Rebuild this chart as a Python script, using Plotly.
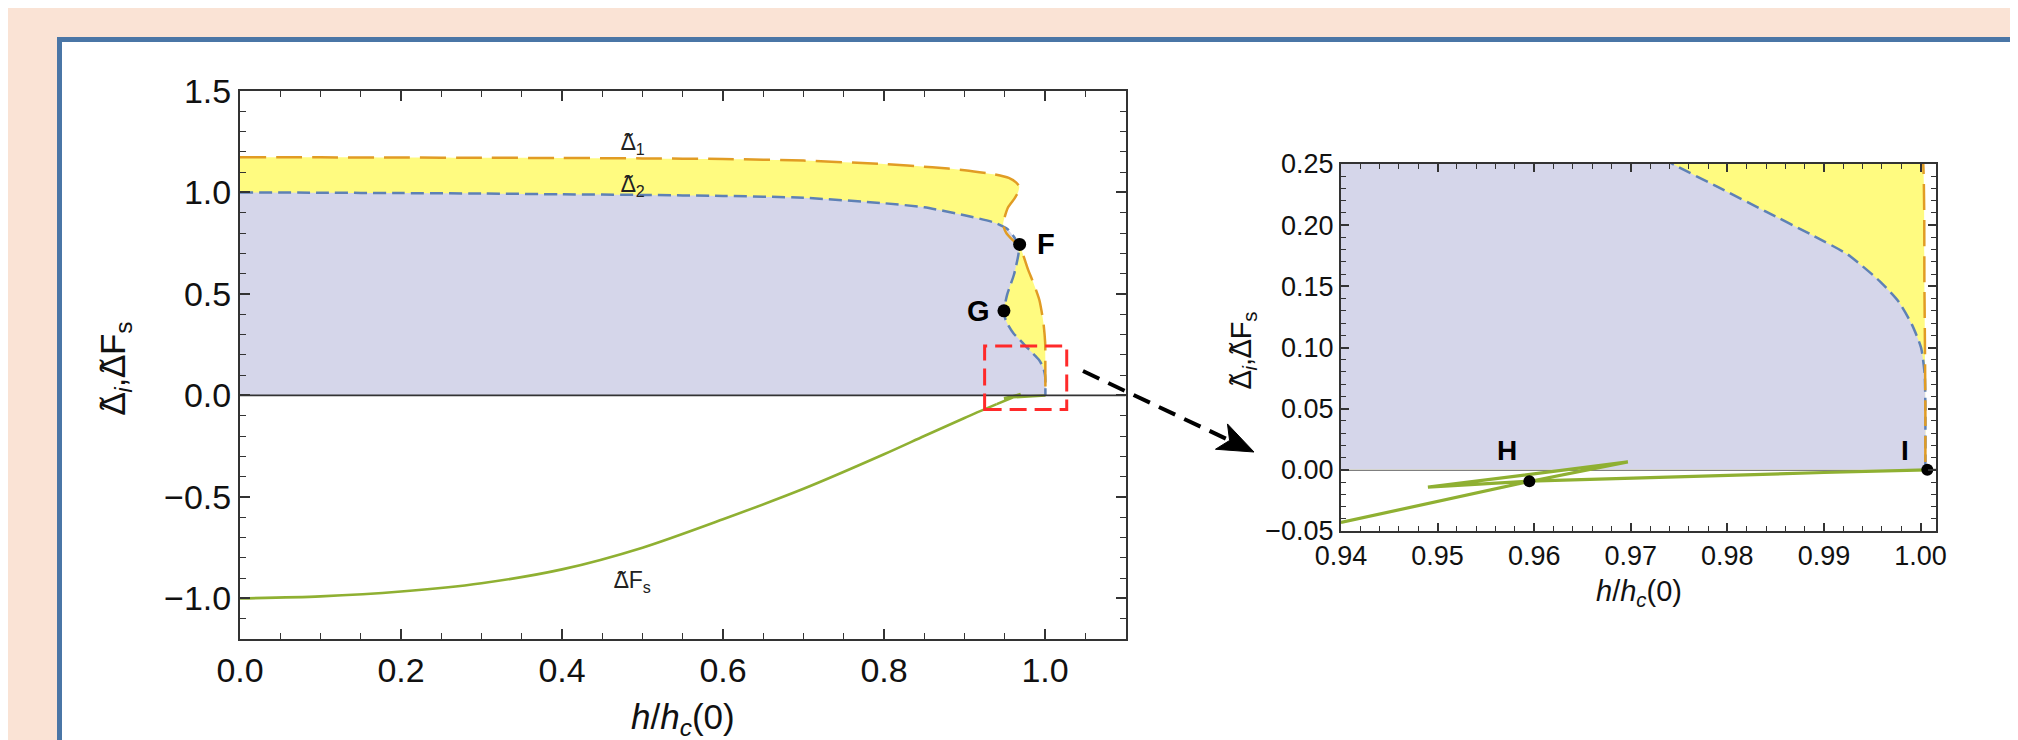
import numpy as np
import plotly.graph_objects as go

# ---------------- data ----------------
# Delta~_2 (blue dashed), parametric curve h/hc(0) -> value
blue_x = [0.0, 0.1, 0.2, 0.3, 0.4, 0.5, 0.6, 0.7, 0.8, 0.85, 0.9, 0.9375, 0.954, 0.962,
          0.9675, 0.967, 0.9615, 0.953, 0.949, 0.9505, 0.954, 0.961, 0.9685, 0.97448,
          0.9792, 0.98395, 0.98869, 0.99248, 0.99579, 0.9977, 0.99911, 1.00006, 1.00043,
          1.0005, 1.0005]
blue_y = [1.0, 0.999, 0.997, 0.995, 0.991, 0.988, 0.983, 0.974, 0.947, 0.927, 0.888, 0.851,
          0.818, 0.778, 0.735, 0.695, 0.596, 0.497, 0.417, 0.38, 0.348, 0.305, 0.275, 0.2494,
          0.2304, 0.2113, 0.1922, 0.1759, 0.1541, 0.1378, 0.1187, 0.0997, 0.0779, 0.05, 0.0]

# Delta~_1 (orange dashed)
orange_x = [0.0, 0.1, 0.2, 0.3, 0.4, 0.5, 0.6, 0.7, 0.8, 0.86, 0.9, 0.936, 0.955, 0.964,
            0.968, 0.9665, 0.962, 0.954, 0.948, 0.952, 0.96, 0.9685, 0.979, 0.986, 0.993,
            0.998, 1.0002, 1.0004, 1.0005, 1.0005]
orange_y = [1.173, 1.173, 1.172, 1.171, 1.17, 1.168, 1.165, 1.157, 1.14, 1.124, 1.11, 1.09,
            1.072, 1.05, 1.03, 1.0, 0.97, 0.926, 0.843, 0.8, 0.765, 0.735, 0.62, 0.55, 0.47,
            0.36, 0.26, 0.15, 0.05, 0.0]

# Delta F~_s (green): smooth branch, then the swallowtail near h/hc(0) ~ 0.95-1.0
green_x = [0.0, 0.1, 0.2, 0.3, 0.4, 0.5, 0.6, 0.7, 0.8, 0.85, 0.9, 0.94]
green_y = [-1.0, -0.99, -0.966, -0.925, -0.857, -0.75, -0.61, -0.46, -0.29, -0.2, -0.111,
           -0.043]
tail_x = [0.94, 0.95, 0.9595, 0.9697, 0.96, 0.949, 0.9595, 0.97, 0.98, 0.99, 1.0007]
tail_y = [-0.043, -0.026, -0.0095, 0.0065, -0.0035, -0.0142, -0.0092, -0.0066, -0.0044,
          -0.0022, 0.0]

# marked points
main_pt_x = [0.9685, 0.949]
main_pt_y = [0.744, 0.417]
main_pt_lab = ["F", "G"]
inset_pt_x = [0.9595, 1.0007]
inset_pt_y = [-0.0093, 0.0]
inset_pt_lab = ["H", "I"]

# axis ranges
main_x_range = [0.0, 1.1]
main_y_range = [-1.2, 1.5]
inset_x_range = [0.94, 1.0016]
inset_y_range = [-0.05, 0.25]

# ---------------- styling ----------------
W, H = 2018, 740
BLUE = "#5E81B5"
ORANGE = "#E19C24"
GREEN = "#8FB032"
LAVENDER = "#D5D6EA"
YELLOW = "#FFFB80"
AX = "#333333"
FONT = "Liberation Sans"


def px(x):
    return x / W


def py(y):
    return 1 - y / H


fig = go.Figure()
SM = 0.6
for xa, ya, gw in (("x", "y", 2.6), ("x2", "y2", 3.2)):
    fig.add_trace(go.Scatter(x=orange_x, y=orange_y, xaxis=xa, yaxis=ya, mode="lines",
                             fill="tozeroy", fillcolor=YELLOW,
                             line=dict(width=0, shape="spline", smoothing=SM),
                             hoverinfo="skip", showlegend=False))
    fig.add_trace(go.Scatter(x=blue_x, y=blue_y, xaxis=xa, yaxis=ya, mode="lines",
                             fill="tozeroy", fillcolor=LAVENDER,
                             line=dict(width=0, shape="spline", smoothing=SM),
                             hoverinfo="skip", showlegend=False))
    fig.add_trace(go.Scatter(x=green_x, y=green_y, xaxis=xa, yaxis=ya, mode="lines",
                             line=dict(color=GREEN, width=gw, shape="spline", smoothing=0.8),
                             showlegend=False))
    fig.add_trace(go.Scatter(x=tail_x, y=tail_y, xaxis=xa, yaxis=ya, mode="lines",
                             line=dict(color=GREEN, width=gw), showlegend=False))
    fig.add_trace(go.Scatter(x=blue_x, y=blue_y, xaxis=xa, yaxis=ya, mode="lines",
                             line=dict(color=BLUE, width=2.5, dash="13px,6px",
                                       shape="spline", smoothing=SM),
                             showlegend=False))
    fig.add_trace(go.Scatter(x=orange_x, y=orange_y, xaxis=xa, yaxis=ya, mode="lines",
                             line=dict(color=ORANGE, width=2.5, dash="26px,10px",
                                       shape="spline", smoothing=SM),
                             showlegend=False))

fig.add_trace(go.Scatter(x=main_pt_x, y=main_pt_y, xaxis="x", yaxis="y", mode="markers",
                         marker=dict(color="black", size=13), showlegend=False))
fig.add_trace(go.Scatter(x=inset_pt_x, y=inset_pt_y, xaxis="x2", yaxis="y2", mode="markers",
                         marker=dict(color="black", size=12), cliponaxis=False,
                         showlegend=False))


def axis_common(size):
    return dict(showline=True, linecolor=AX, linewidth=2, mirror="ticks",
                ticks="inside", tickcolor=AX, tickwidth=1.5, showgrid=False,
                zeroline=False, automargin=False,
                tickfont=dict(family=FONT, size=size, color="#111"))


fig.update_layout(
    width=W, height=H, autosize=False,
    margin=dict(l=0, r=0, t=0, b=0, pad=0, autoexpand=False),
    paper_bgcolor="#FAE3D5", plot_bgcolor="rgba(0,0,0,0)",
    xaxis=dict(domain=[px(232), px(1117.5)], range=main_x_range, anchor="y",
               dtick=0.2, tick0=0, tickformat=".1f", ticklen=10,
               minor=dict(ticks="inside", dtick=0.05, ticklen=6, tickcolor=AX, tickwidth=1.2),
               **axis_common(34)),
    yaxis=dict(domain=[py(631), py(83)], range=main_y_range, anchor="x",
               dtick=0.5, tick0=0, tickformat=".1f", ticklen=10,
               minor=dict(ticks="inside", dtick=0.1, ticklen=6, tickcolor=AX, tickwidth=1.2),
               **axis_common(34)),
    xaxis2=dict(domain=[px(1333), px(1928)], range=inset_x_range, anchor="y2",
                dtick=0.01, tick0=0.94, tickformat=".2f", ticklen=8,
                minor=dict(ticks="inside", dtick=0.002, ticklen=5, tickcolor=AX, tickwidth=1.2),
                **axis_common(27)),
    yaxis2=dict(domain=[py(523), py(156)], range=inset_y_range, anchor="x2",
                dtick=0.05, tick0=0, tickformat=".2f", ticklen=8,
                minor=dict(ticks="inside", dtick=0.01, ticklen=5, tickcolor=AX, tickwidth=1.2),
                **axis_common(27)),
)

shapes = [
    dict(type="rect", xref="paper", yref="paper", x0=px(51.5), x1=px(2011.5),
         y0=-0.1, y1=py(31.5), line=dict(color="#4A76A6", width=5),
         fillcolor="white", layer="below"),
    dict(type="line", xref="x domain", yref="y", x0=0, x1=1, y0=0, y1=0,
         line=dict(color=AX, width=1.8), layer="above"),
    dict(type="line", xref="x2 domain", yref="y2", x0=0, x1=1, y0=0, y1=0,
         line=dict(color="#555555", width=2), layer="below"),
    dict(type="rect", xref="x", yref="y", x0=0.925, x1=1.027, y0=-0.069, y1=0.243,
         line=dict(color="#FF2A2A", width=3, dash="17px,8px"), layer="above"),
]

# dashed arrow from the zoom box to the inset
a0 = np.array([1075.0, 363.0])
tip = np.array([1246.0, 444.0])
d = (tip - a0) / np.linalg.norm(tip - a0)
p = np.array([-d[1], d[0]])
L, Wd, N = 36.0, 14.0, 9.0
base = tip - L * d
b1 = base + Wd * p
b2 = base - Wd * p
notch = tip - (L - N) * d
shapes.append(dict(type="line", xref="paper", yref="paper",
                   x0=px(a0[0]), y0=py(a0[1]), x1=px(notch[0]), y1=py(notch[1]),
                   line=dict(color="black", width=4, dash="18px,10px"), layer="above"))
path = "M {},{} L {},{} L {},{} L {},{} Z".format(
    px(tip[0]), py(tip[1]), px(b1[0]), py(b1[1]), px(notch[0]), py(notch[1]),
    px(b2[0]), py(b2[1]))
shapes.append(dict(type="path", xref="paper", yref="paper", path=path,
                   fillcolor="black", line=dict(color="black", width=1), layer="above"))
fig.update_layout(shapes=shapes)

TIL = '<span style="font-family:Noto Sans">\u0394\u0303</span>'


def A(**kw):
    kw.setdefault("showarrow", False)
    kw.setdefault("xanchor", "center")
    kw.setdefault("yanchor", "middle")
    return kw


ann = []
for x, y, t in zip(main_pt_x, main_pt_y, main_pt_lab):
    dx = 0.0325 if t == "F" else -0.032
    ann.append(A(x=x + dx, y=y, xref="x", yref="y", text="<b>%s</b>" % t,
                 font=dict(family=FONT, size=29, color="black")))
for x, y, t in zip(inset_pt_x, inset_pt_y, inset_pt_lab):
    ann.append(A(x=x - 0.0023, y=0.0155, xref="x2", yref="y2", text="<b>%s</b>" % t,
                 font=dict(family=FONT, size=28, color="black")))
lab_font = dict(family=FONT, size=23, color="#222")
ann.append(A(x=0.488, y=1.25, xref="x", yref="y", text=TIL + "<sub>1</sub>", font=lab_font))
ann.append(A(x=0.488, y=1.045, xref="x", yref="y", text=TIL + "<sub>2</sub>", font=lab_font))
ann.append(A(x=0.488, y=-0.905, xref="x", yref="y", text=TIL + "F<sub>s</sub>", font=lab_font))

ytitle = TIL + "<sub><i>i</i></sub>," + TIL + "F<sub>s</sub>"
xtitle = "<i>h</i>/<i>h</i><sub><i>c</i></sub>(0)"
ann.append(A(x=px(104), y=py(360), xref="paper", yref="paper", text=ytitle, textangle=-90,
             font=dict(family=FONT, size=35, color="#111")))
ann.append(A(x=px(675), y=py(711), xref="paper", yref="paper", text=xtitle,
             font=dict(family=FONT, size=35, color="#111")))
ann.append(A(x=px(1233), y=py(342), xref="paper", yref="paper", text=ytitle, textangle=-90,
             font=dict(family=FONT, size=29, color="#111")))
ann.append(A(x=px(1631), y=py(585), xref="paper", yref="paper", text=xtitle,
             font=dict(family=FONT, size=29, color="#111")))
fig.update_layout(annotations=ann)

fig.write_html("out.html")
